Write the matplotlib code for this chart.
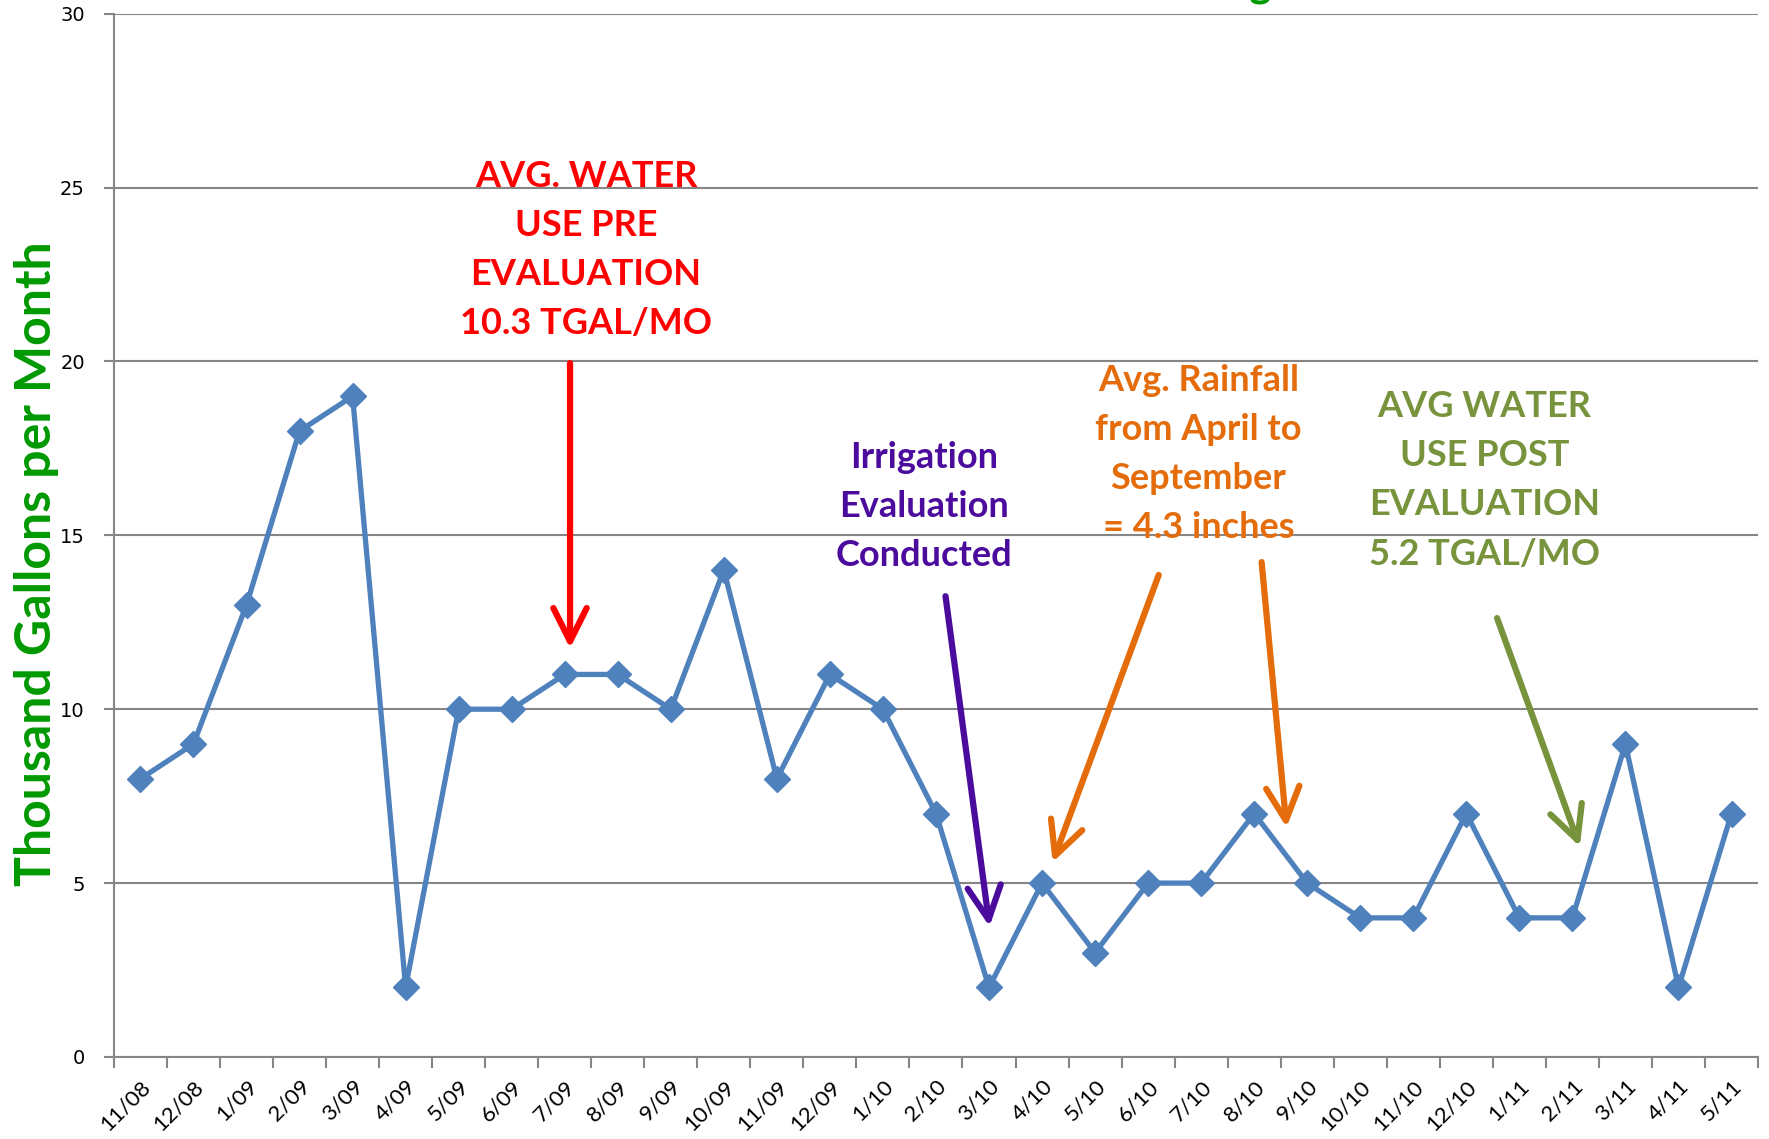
import matplotlib
matplotlib.use('Agg')
import matplotlib.pyplot as plt

# 월별 데이터
months = ['11/08', '12/08', '1/09', '2/09', '3/09', '4/09', '5/09', '6/09', '7/09', '8/09',
          '9/09', '10/09', '11/09', '12/09', '1/10', '2/10', '3/10', '4/10', '5/10', '6/10',
          '7/10', '8/10', '9/10', '10/10', '11/10', '12/10', '1/11', '2/11', '3/11', '4/11', '5/11']
usage = [8, 9, 13, 18, 19, 2, 10, 10, 11, 11,
         10, 14, 8, 11, 10, 7, 2, 5, 3, 5,
         5, 7, 5, 4, 4, 7, 4, 4, 9, 2, 7]
y_ticks = [0, 5, 10, 15, 20, 25, 30]

BLUE = '#4F81BD'
GRID = '#868686'

plt.rcParams['font.family'] = ['Lato', 'DejaVu Sans']

fig = plt.figure(figsize=(17.69, 11.39), dpi=100)
ax = fig.add_axes([0.0644, 0.072, 0.9294, 0.916])

x = list(range(len(months)))
ax.plot(x, usage, color=BLUE, lw=3.8, marker='D', ms=13, mec=BLUE, mfc=BLUE, zorder=3)

ax.set_xlim(-0.5, len(months) - 0.5)
ax.set_ylim(0, 30)
ax.set_yticks(y_ticks)
ax.yaxis.grid(True, color=GRID, lw=1.5)
ax.set_axisbelow(True)

# x축 눈금: 라벨은 가운데, 눈금선은 경계
ax.set_xticks(x)
ax.set_xticklabels(months, rotation=45, ha='right', rotation_mode='anchor', fontsize=16)
ax.set_xticks([i - 0.5 for i in range(len(months) + 1)], minor=True)
ax.tick_params(axis='x', which='major', length=0, pad=14)
ax.tick_params(axis='x', which='minor', length=8, width=1.5, color=GRID, direction='out')
ax.tick_params(axis='y', length=7, width=1.5, color=GRID, direction='out', labelsize=14, pad=14)
for lab in ax.get_yticklabels():
    lab.set_fontfamily('DejaVu Sans')

for side in ['top', 'right']:
    ax.spines[side].set_visible(False)
for side in ['left', 'bottom']:
    ax.spines[side].set_color(GRID)
    ax.spines[side].set_linewidth(1.5)

ax.set_ylabel('Thousand Gallons per Month', color='#009900', fontsize=36,
              fontweight='bold', va='center')
ax.yaxis.set_label_coords(-0.047, 0.473)

# 잘린 제목 (아래쪽만 보임)
fig.text(0.731, 1.003, 'Water Usage', color='#009900', fontsize=30, fontweight='bold',
         ha='right', va='baseline')

# 주석과 화살표
def note(txt, tx, ty, color, arrows):
    ax.text(tx, ty, txt, color=color, fontsize=26, fontweight='bold',
            ha='center', va='center', linespacing=1.6)
    for (x0, y0, x1, y1) in arrows:
        ax.annotate('', xy=(x1, y1), xytext=(x0, y0),
                    arrowprops=dict(arrowstyle='->,head_length=1.2,head_width=0.6',
                                    color=color, lw=4.5, shrinkA=0, shrinkB=0,
                                    mutation_scale=20, capstyle='round',
                                    joinstyle='round'))

note('AVG. WATER\nUSE PRE\nEVALUATION\n10.3 TGAL/MO', 8.4, 23.2, '#FF0000',
     [(8.1, 19.95, 8.1, 11.75)])
note('Irrigation\nEvaluation\nConducted', 14.78, 15.83, '#4B0C9E',
     [(15.18, 13.25, 16.01, 3.75)])
note('Avg. Rainfall\nfrom April to\nSeptember\n= 4.3 inches', 19.95, 17.34, '#E46C0A',
     [(19.2, 13.86, 17.2, 5.6), (21.14, 14.23, 21.61, 6.6)])
note('AVG WATER\nUSE POST\nEVALUATION\n5.2 TGAL/MO', 25.34, 16.58, '#77933C',
     [(25.58, 12.62, 27.14, 6.05)])

fig.savefig('out.png', dpi=100)
